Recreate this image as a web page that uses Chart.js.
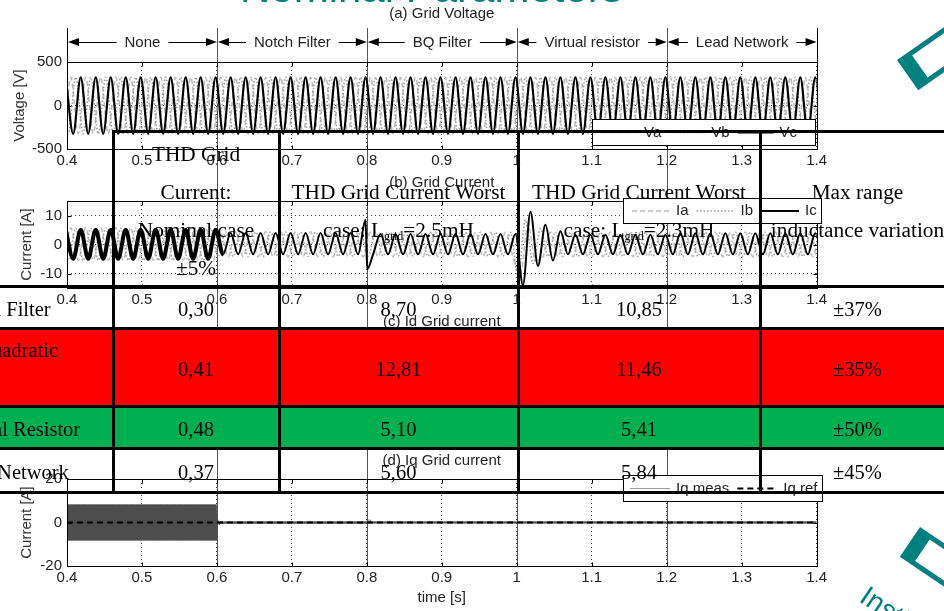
<!DOCTYPE html>
<html>
<head>
<meta charset="utf-8">
<title>Nominal Parameters</title>
<script src="https://cdn.jsdelivr.net/npm/chart.js@4.4.1/dist/chart.umd.min.js"></script>
<style>
  body { margin: 0; width: 944px; height: 611px; overflow: hidden; background: #fff; position: relative; font-family: "Liberation Sans", Arial, sans-serif; }
  canvas { position: absolute; left: 0; }
  #slideTitle { position: absolute; left: 240px; top: -33px; font-size: 42px; line-height: 42px; color: #00807f; white-space: nowrap; }
  .deco { position: absolute; box-sizing: border-box; border: 5px solid #00807f; border-left-width: 15px; transform-origin: 0 0; }
  #logoText { position: absolute; left: 872px; top: 580px; font-size: 28px; color: #00807f; transform-origin: 0 0; transform: rotate(34deg); white-space: nowrap; }
  #thd { position: absolute; left: 0; top: 0; width: 944px; height: 611px; }
  .cell { position: absolute; box-sizing: border-box; padding-top: 4px; display: flex; align-items: center; justify-content: center; text-align: center; font-family: "Liberation Serif", "Times New Roman", serif; font-size: 20.5px; line-height: 38px; color: #000; white-space: nowrap; }
  .cell.head { font-size: 21.3px; }
  .cell.first { justify-content: flex-start; text-align: left; white-space: normal; padding-left: 1px; padding-right: 23px; }
  .fill, .hl, .vl { position: absolute; }
  .hl, .vl { background: #000; }
  sub { font-size: 12px; line-height: 0; vertical-align: -3px; }
</style>
</head>
<body>
<canvas id="pa" width="830" height="167" style="top:0px"></canvas>
<canvas id="pb" width="830" height="139" style="top:167px"></canvas>
<canvas id="pc" width="830" height="139" style="top:306px"></canvas>
<canvas id="pd" width="830" height="166" style="top:445px"></canvas>
<div id="thd"></div>
<div id="slideTitle">Nominal Parameters</div>
<div class="deco" style="left:897px;top:60px;width:90px;height:37px;transform:rotate(-35deg)"></div>
<div class="deco" style="left:920px;top:527px;width:90px;height:36px;transform:rotate(34deg)"></div>
<div id="logoText">Institut</div>
<script>
const FONT = '"Liberation Sans", Arial, sans-serif';

// time axis and control stages
const timeTicks = [0.4, 0.5, 0.6, 0.7, 0.8, 0.9, 1.0, 1.1, 1.2, 1.3, 1.4];
const timeLabels = ['0.4', '0.5', '0.6', '0.7', '0.8', '0.9', '1', '1.1', '1.2', '1.3', '1.4'];
const stageBounds = [0.4, 0.6, 0.8, 1.0, 1.2, 1.4];
const stageNames = ['None', 'Notch Filter', 'BQ Filter', 'Virtual resistor', 'Lead Network'];
const eventTimes = [0.6, 0.8, 1.0, 1.2];

// (a) grid voltage, 50 Hz: first positive peak after 0.4 s, peak value per stage
const vaFirstPeak = 0.405;
const vbFirstPeak = 0.4117;
const vcFirstPeak = 0.4183;
const vaPeak = [325, 325, 325, 325, 325];
const vbPeak = [325, 325, 325, 325, 325];
const vcPeak = [325, 325, 325, 325, 325];

// (b) grid current: peak / trough per stage, plus transients [time, value]
const iaPos = [5.8, 4.4, 4.2, 4.3, 4.3];
const iaNeg = [-5.4, -4.2, -4.2, -4.2, -4.2];
const ibPos = [5.6, 4.3, 4.2, 4.2, 4.2];
const ibNeg = [-5.5, -4.1, -4.0, -4.1, -4.1];
const icPos = [5.1, 4.0, 3.6, 3.4, 3.9];
const icNeg = [-4.9, -3.4, -3.4, -3.4, -3.4];
const iaTransient = [[1.005, -10], [1.015, 7], [1.025, -5.5]];
const ibTransient = [[1.0017, -11], [1.0117, 8.5], [1.0217, -6.5], [1.0317, 5.5]];
const icTransient = [[0.7983, 8.5], [0.8005, -8.5], [1.0083, -14], [1.0183, 11.3], [1.0283, -7.4], [1.0383, 6.8], [1.0483, -5.5], [1.0583, 4.6]];

// (c) Id grid current (hidden behind the table)
const idPos = [14.5, 7.4, 7.4, 7.4, 7.4];
const idNeg = [0.5, 6.6, 6.6, 6.6, 6.6];
const idRef = [7, 7];

// (d) Iq grid current: ripple peak / trough per stage
const iqPos = [8.3, 0.35, 0.3, 0.3, 0.3];
const iqNeg = [-8.3, -0.35, -0.3, -0.3, -0.3];
const iqTransient = [[0.6012, 1.2], [0.6032, -1.0], [0.8015, 1.5], [0.8045, 1.1], [1.0015, 0.8]];
const iqRef = [0, 0];
const refTimes = [0.4, 1.4];

// THD table
const headers = ['', 'THD Grid<br>Current:<br>Nominal case<br>±5%', 'THD Grid Current Worst<br>case: L<sub>grid</sub>=2.5mH', 'THD Grid Current Worst<br>case: L<sub>grid</sub>=2.3mH', 'Max range<br>inductance variation'];
const methods = ['Notch Filter', 'Bi-Quadratic Filter', 'Virtual Resistor', 'Lead Network'];
const thdNominal = ['0,30', '0,41', '0,48', '0,37'];
const thdWorst25 = ['8,70', '12,81', '5,10', '5,60'];
const thdWorst23 = ['10,85', '11,46', '5,41', '5,84'];
const maxRange = ['±37%', '±35%', '±50%', '±45%'];
const rowFills = ['', '', '#ff0000', '#00b050', ''];

function stageOf(t) {
  let s = 0;
  while (s < 4 && t >= stageBounds[s + 1]) s++;
  return s;
}

// peaks and troughs of a 50 Hz (or ripple) wave, joined with monotone curves
function extremes(firstPeak, pos, neg, transient, step) {
  let pts = [];
  for (let k = 0; ; k++) {
    const t = firstPeak + (k - 2) * step;
    if (t > 1.4 + 2 * step) break;
    const s = stageOf(t);
    pts.push({ x: t, y: k % 2 === 0 ? pos[s] : neg[s] });
  }
  pts = pts.filter(p => !transient.some(tr => Math.abs(tr[0] - p.x) < step * 0.4));
  transient.forEach(tr => pts.push({ x: tr[0], y: tr[1] }));
  return pts.sort((a, b) => a.x - b.x);
}

const neg = arr => arr.map(v => -v);

const figure = {
  id: 'figure',
  beforeDatasetsDraw(chart, args, o) {
    const { ctx, chartArea: a, scales: { x } } = chart;
    ctx.save();
    ctx.strokeStyle = '#555';
    ctx.lineWidth = 1;
    const yEnd = o.eventsToBottom ? a.bottom : chart.height;
    eventTimes.forEach(t => {
      const px = Math.round(x.getPixelForValue(t)) + 0.5;
      ctx.beginPath();
      ctx.moveTo(px, a.top - 34);
      ctx.lineTo(px, yEnd);
      ctx.stroke();
    });
    ctx.restore();
  },
  afterDatasetsDraw(chart, args, o) {
    const { ctx, chartArea: a, scales: { x, y } } = chart;
    ctx.save();
    ctx.strokeStyle = '#000';
    ctx.lineWidth = 1;
    const l = Math.round(a.left) + 0.5, r = Math.round(a.right) + 0.5;
    const t = Math.round(a.top) + 0.5, b = Math.round(a.bottom) + 0.5;
    ctx.strokeRect(l, t, r - l, b - t);
    ctx.beginPath();
    timeTicks.forEach(v => {
      const px = Math.round(x.getPixelForValue(v)) + 0.5;
      ctx.moveTo(px, b); ctx.lineTo(px, b - 4);
      ctx.moveTo(px, t); ctx.lineTo(px, t + 4);
    });
    y.ticks.forEach(tk => {
      const py = Math.round(y.getPixelForValue(tk.value)) + 0.5;
      ctx.moveTo(l, py); ctx.lineTo(l + 4, py);
      ctx.moveTo(r, py); ctx.lineTo(r - 4, py);
    });
    ctx.stroke();
    ctx.restore();
  },
  afterDraw(chart, args, o) {
    const { ctx, chartArea: a, scales: { x } } = chart;
    ctx.save();
    ctx.font = '15px ' + FONT;
    ctx.fillStyle = '#222';
    ctx.textAlign = 'center';
    ctx.textBaseline = 'middle';
    ctx.fillText(o.title, (a.left + a.right) / 2, a.top - o.titleGap);

    if (o.arrows) {
      const yA = a.top - 20;
      ctx.strokeStyle = '#000';
      ctx.fillStyle = '#000';
      ctx.lineWidth = 1;
      [stageBounds[0], stageBounds[stageBounds.length - 1]].forEach(t => {
        const px = Math.round(x.getPixelForValue(t)) + 0.5;
        ctx.beginPath(); ctx.moveTo(px, a.top - 34); ctx.lineTo(px, a.top); ctx.stroke();
      });
      const head = (tip, dir) => {
        ctx.beginPath();
        ctx.moveTo(tip, yA);
        ctx.lineTo(tip + dir * 11, yA - 4);
        ctx.lineTo(tip + dir * 11, yA + 4);
        ctx.closePath();
        ctx.fill();
      };
      stageNames.forEach((name, i) => {
        const xl = x.getPixelForValue(stageBounds[i]) + 1;
        const xr = x.getPixelForValue(stageBounds[i + 1]);
        const xm = (xl + xr) / 2, tw = ctx.measureText(name).width;
        head(xl, 1);
        head(xr, -1);
        ctx.beginPath();
        ctx.moveTo(xl + 10, yA + 0.5); ctx.lineTo(xm - tw / 2 - 8, yA + 0.5);
        ctx.moveTo(xm + tw / 2 + 8, yA + 0.5); ctx.lineTo(xr - 10, yA + 0.5);
        ctx.stroke();
        ctx.fillStyle = '#222';
        ctx.fillText(name, xm, yA + 1);
        ctx.fillStyle = '#000';
      });
    }

    const lg = o.legend;
    if (lg) {
      const x0 = Math.round(a.right + lg.dx), y0 = Math.round(a.top + lg.dy);
      ctx.fillStyle = '#fff';
      ctx.fillRect(x0, y0, lg.w, lg.h);
      ctx.strokeStyle = '#000';
      ctx.lineWidth = 1;
      ctx.strokeRect(x0 + 0.5, y0 + 0.5, lg.w, lg.h);
      ctx.textAlign = 'left';
      let lx = x0 + lg.pad;
      const ym = y0 + lg.h / 2 + 0.5;
      chart.data.datasets.forEach(ds => {
        ctx.strokeStyle = ds.legendColor || ds.borderColor;
        ctx.lineWidth = Math.min(ds.borderWidth, 2);
        ctx.setLineDash(ds.borderDash || []);
        ctx.beginPath(); ctx.moveTo(lx, ym); ctx.lineTo(lx + lg.sample, ym); ctx.stroke();
        ctx.setLineDash([]);
        lx += lg.sample + 6;
        ctx.fillStyle = '#222';
        ctx.fillText(ds.label, lx, ym);
        lx += ctx.measureText(ds.label).width + 8;
      });
    }
    ctx.restore();
  }
};

function panel(id, cfg) {
  return new Chart(document.getElementById(id), {
    type: 'line',
    data: { datasets: cfg.datasets },
    options: {
      responsive: false,
      animation: false,
      devicePixelRatio: 1,
      events: [],
      layout: { padding: { top: cfg.padTop, right: 12, left: 0, bottom: 0 } },
      elements: { point: { radius: 0 }, line: { cubicInterpolationMode: 'monotone', fill: false } },
      plugins: { legend: { display: false }, tooltip: { enabled: false }, figure: cfg.figure },
      scales: {
        x: {
          type: 'linear', min: 0.4, max: 1.4,
          afterBuildTicks: s => { s.ticks = timeTicks.map(v => ({ value: v })); },
          afterFit: s => { s.height = cfg.xHeight; },
          ticks: { padding: 3, maxRotation: 0, autoSkip: false, color: '#222', font: { size: 15, family: FONT }, callback: (v, i) => timeLabels[i] },
          grid: { color: '#444', lineWidth: 1, drawTicks: false },
          border: { display: false, dash: [1, 3] },
          title: { display: !!cfg.xTitle, text: cfg.xTitle || '', color: '#222', font: { size: 15, family: FONT }, padding: { top: 0, bottom: 4 } }
        },
        y: {
          min: cfg.yMin, max: cfg.yMax,
          afterBuildTicks: s => { s.ticks = cfg.yTicks.map(v => ({ value: v })); },
          afterFit: s => { s.width = 67; },
          ticks: { padding: 5, color: '#222', font: { size: 15, family: FONT }, callback: v => String(v) },
          grid: { color: '#444', lineWidth: 1, drawTicks: false },
          border: { display: false, dash: [1, 3] },
          title: { display: true, text: cfg.yTitle, color: '#333', font: { size: 15, family: FONT }, padding: { top: cfg.yTitlePad, bottom: 0 } }
        }
      }
    },
    plugins: [figure]
  });
}

panel('pa', {
  padTop: 62, xHeight: 18, yMin: -500, yMax: 500, yTicks: [-500, 0, 500], yTitle: 'Voltage [V]', yTitlePad: 11,
  figure: { title: '(a) Grid Voltage', titleGap: 48, arrows: true, legend: { dx: -225, dy: 57, w: 223, h: 26, pad: 10, sample: 36 } },
  datasets: [
    { label: 'Va', data: extremes(vaFirstPeak, vaPeak, neg(vaPeak), [], 0.01), borderColor: '#b8b8b8', borderWidth: 1.5, borderDash: [5, 3], order: 3 },
    { label: 'Vb', data: extremes(vbFirstPeak, vbPeak, neg(vbPeak), [], 0.01), borderColor: '#9a9a9a', borderWidth: 1.5, borderDash: [1.5, 2], order: 2 },
    { label: 'Vc', data: extremes(vcFirstPeak, vcPeak, neg(vcPeak), [], 0.01), borderColor: '#000', borderWidth: 2.2, order: 1 }
  ]
});

panel('pb', {
  padTop: 34, xHeight: 18, yMin: -15, yMax: 15, yTicks: [-10, 0, 10], yTitle: 'Current [A]', yTitlePad: 17.5,
  figure: { title: '(b) Grid Current', titleGap: 18, legend: { dx: -194, dy: -3, w: 198, h: 25, pad: 9, sample: 38 } },
  datasets: [
    { label: 'Ia', data: extremes(vaFirstPeak, iaPos, iaNeg, iaTransient, 0.01), borderColor: '#bdbdbd', borderWidth: 1.5, borderDash: [5, 3], order: 3 },
    { label: 'Ib', data: extremes(vbFirstPeak, ibPos, ibNeg, ibTransient, 0.01), borderColor: '#9a9a9a', borderWidth: 1.5, borderDash: [1.5, 2], order: 2 },
    { label: 'Ic', data: extremes(vcFirstPeak, icPos, icNeg, icTransient, 0.01), borderColor: '#000', borderWidth: 2, order: 1,
      segment: { borderWidth: c => (c.p0.parsed.x < 0.6 ? 4 : 2) } }
  ]
});

panel('pc', {
  padTop: 34, xHeight: 18, yMin: -20, yMax: 20, yTicks: [-20, 0, 20], yTitle: 'Current [A]', yTitlePad: 17.5,
  figure: { title: '(c) Id Grid current', titleGap: 18 },
  datasets: [
    { label: 'Id meas', data: extremes(0.4005, idPos, idNeg, [], 0.001), borderColor: '#4a4a4a', borderWidth: 1, order: 2 },
    { label: 'Id ref', data: refTimes.map((t, i) => ({ x: t, y: idRef[i] })), borderColor: '#000', borderWidth: 2, borderDash: [6, 4], order: 1 }
  ]
});

panel('pd', {
  padTop: 34, xHeight: 45, yMin: -20, yMax: 20, yTicks: [-20, 0, 20], yTitle: 'Current [A]', yTitlePad: 17.5, xTitle: 'time [s]',
  figure: { title: '(d) Iq Grid current', titleGap: 18, eventsToBottom: true, legend: { dx: -194, dy: -4, w: 199, h: 26, pad: 7, sample: 40 } },
  datasets: [
    { label: 'Iq meas', data: extremes(0.40025, iqPos, iqNeg, iqTransient, 0.0005), borderColor: '#4d4d4d', legendColor: '#999', borderWidth: 1.1, order: 2 },
    { label: 'Iq ref', data: refTimes.map((t, i) => ({ x: t, y: iqRef[i] })), borderColor: '#000', borderWidth: 2, borderDash: [6, 4], order: 1 }
  ]
});

// THD comparison table laid over the figure
const colEdges = [-50, 113, 279, 518, 760, 955];
const rowEdges = [131, 286, 328, 406, 448, 492];
const thd = document.getElementById('thd');
function box(cls, l, t, w, h, bg) {
  const d = document.createElement('div');
  d.className = cls;
  d.style.left = l + 'px'; d.style.top = t + 'px';
  d.style.width = w + 'px'; d.style.height = h + 'px';
  if (bg) d.style.background = bg;
  thd.appendChild(d);
  return d;
}
rowFills.forEach((c, r) => { if (c) box('fill', 0, rowEdges[r], 944, rowEdges[r + 1] - rowEdges[r], c); });
const rows = [headers].concat(methods.map((m, i) => [m, thdNominal[i], thdWorst25[i], thdWorst23[i], maxRange[i]]));
rows.forEach((row, r) => row.forEach((txt, c) => {
  const cls = 'cell' + (c === 0 ? ' first' : '') + (r === 0 ? ' head' : '');
  const d = box(cls, colEdges[c], rowEdges[r], colEdges[c + 1] - colEdges[c], rowEdges[r + 1] - rowEdges[r]);
  d.innerHTML = '<div>' + txt + '</div>';
}));
rowEdges.forEach((y, i) => box('hl', i === 0 ? 112 : 0, y - 1, i === 0 ? 832 : 944, 3));
colEdges.slice(1, 5).forEach(x => box('vl', x - 1, 130, 3, 363));
</script>
</body>
</html>
